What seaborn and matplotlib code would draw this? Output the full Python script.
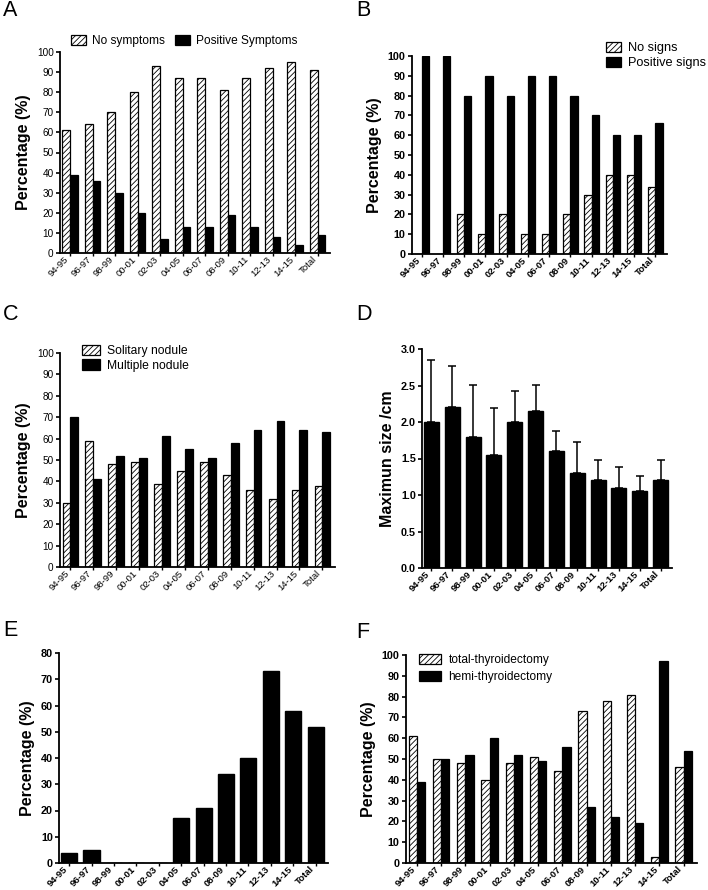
import numpy as np
import pandas as pd
import seaborn as sns
import matplotlib.pyplot as plt
from matplotlib.transforms import ScaledTranslation

periods = ['94-95', '96-97', '98-99', '00-01', '02-03', '04-05', '06-07',
           '08-09', '10-11', '12-13', '14-15', 'Total']

# A
no_symptoms = [61, 64, 70, 80, 93, 87, 87, 81, 87, 92, 95, 91]
pos_symptoms = [39, 36, 30, 20, 7, 13, 13, 19, 13, 8, 4, 9]
# B
no_signs = [0, 0, 20, 10, 20, 10, 10, 20, 30, 40, 40, 34]
pos_signs = [100, 100, 80, 90, 80, 90, 90, 80, 70, 60, 60, 66]
# C
solitary = [30, 59, 48, 49, 39, 45, 49, 43, 36, 32, 36, 38]
multiple = [70, 41, 52, 51, 61, 55, 51, 58, 64, 68, 64, 63]
# D
max_size = [2.0, 2.2, 1.8, 1.55, 2.0, 2.15, 1.6, 1.3, 1.2, 1.1, 1.05, 1.2]
max_size_sd = [0.85, 0.57, 0.71, 0.64, 0.43, 0.36, 0.28, 0.43, 0.28, 0.28, 0.21, 0.28]
# E
pct_e = [4, 5, 0, 0, 0, 17, 21, 34, 40, 73, 58, 52]
# F
total_thy = [61, 50, 48, 40, 48, 51, 44, 73, 78, 81, 3, 46]
hemi_thy = [39, 50, 52, 60, 52, 49, 56, 27, 22, 19, 97, 54]

sns.set_style('ticks', {'axes.edgecolor': 'black', 'text.color': 'black',
                        'axes.labelcolor': 'black', 'xtick.color': 'black',
                        'ytick.color': 'black'})
plt.rcParams['font.family'] = ['Liberation Sans', 'DejaVu Sans']
plt.rcParams['hatch.linewidth'] = 0.6

W, H = 708, 890
fig = plt.figure(figsize=(W / 100, H / 100), dpi=100)


def px_axes(left, top, right, bottom):
    return fig.add_axes([left / W, 1 - bottom / H, (right - left) / W, (bottom - top) / H])


def style_axis(ax, ymax, ystep, bold_ticks, ylabel):
    sns.despine(ax=ax)
    for s in ['left', 'bottom']:
        ax.spines[s].set_linewidth(1.3)
    ax.set_ylim(0, ymax)
    ax.set_yticks(np.arange(0, ymax + ystep / 2, ystep))
    ax.set_xlim(-0.45, 11.55)
    ax.set_xlabel('')
    ax.set_ylabel(ylabel, fontsize=11.5, fontweight='bold', labelpad=4)
    ax.tick_params(axis='y', width=1.2, length=3, pad=1.5,
                   labelsize=7.8 if bold_ticks else 7.2)
    ax.tick_params(axis='x', width=1.0, length=2.5, pad=1, labelsize=6.8)
    ax.set_xticks(range(len(periods)))
    ax.set_xticklabels(periods, rotation=45, ha='right', va='center',
                       rotation_mode='anchor')
    shift = ScaledTranslation(-2 / 72, 0, fig.dpi_scale_trans)
    for t in ax.get_xticklabels():
        t.set_transform(t.get_transform() + shift)
        if bold_ticks:
            t.set_fontweight('bold')
    if bold_ticks:
        for t in ax.get_yticklabels():
            t.set_fontweight('bold')


def paired(ax, a, b, la, lb):
    df = pd.DataFrame({'period': periods * 2, 'value': a + b,
                       'group': [la] * len(a) + [lb] * len(b)})
    sns.barplot(data=df, x='period', y='value', hue='group', order=periods,
                hue_order=[la, lb], palette=['white', 'black'], width=0.68,
                edgecolor='black', linewidth=0.9, errorbar=None, ax=ax)
    for bar in ax.containers[0]:
        bar.set_hatch('//////')
    handles = [ax.containers[0][0], ax.containers[1][0]]
    ax.get_legend().remove()
    return handles


def panel_label(x, y, s):
    fig.text(x / W, 1 - y / H, s, fontsize=15.5, ha='left', va='center')


# A
axA = px_axes(60, 52, 330, 253)
h = paired(axA, no_symptoms, pos_symptoms, 'No symptoms', 'Positive Symptoms')
style_axis(axA, 100, 10, False, 'Percentage (%)')
axA.legend(h, ['No symptoms', 'Positive Symptoms'], ncol=2, frameon=False,
           loc='center', bbox_to_anchor=(184 / W, 1 - 41 / H), bbox_transform=fig.transFigure,
           fontsize=8.6, handlelength=1.3, handleheight=0.9, columnspacing=0.8, handletextpad=0.5)
panel_label(3, 11, 'A')

# B
axB = px_axes(412, 56, 667, 254)
h = paired(axB, no_signs, pos_signs, 'No signs', 'Positive signs')
style_axis(axB, 100, 10, True, 'Percentage (%)')
axB.legend(h, ['No signs', 'Positive signs'], frameon=False,
           loc='upper left', bbox_to_anchor=(594 / W, 1 - 30 / H), bbox_transform=fig.transFigure,
           fontsize=9.2, handlelength=1.2, handleheight=0.9, labelspacing=0.2, handletextpad=0.6)
panel_label(356, 11, 'B')

# C
axC = px_axes(60, 353, 335, 567)
h = paired(axC, solitary, multiple, 'Solitary nodule', 'Multiple nodule')
style_axis(axC, 100, 10, False, 'Percentage (%)')
axC.legend(h, ['Solitary nodule', 'Multiple nodule'], frameon=False,
           loc='upper left', bbox_to_anchor=(71 / W, 1 - 334 / H), bbox_transform=fig.transFigure,
           fontsize=8.7, handlelength=1.5, handleheight=0.9, labelspacing=0.2, handletextpad=0.6)
panel_label(3, 315, 'C')

# D
axD = px_axes(422, 349, 672, 568)
sns.barplot(x=periods, y=max_size, order=periods, color='black', width=0.72,
            edgecolor='black', errorbar=None, ax=axD)
axD.errorbar(range(len(periods)), max_size, yerr=[np.zeros(len(max_size)), max_size_sd],
             fmt='none', ecolor='black', elinewidth=1.1, capsize=3, capthick=1.1)
style_axis(axD, 3.0, 0.5, True, 'Maximun size /cm')
axD.set_yticklabels([f'{v:.1f}' for v in np.arange(0, 3.01, 0.5)], fontweight='bold')
panel_label(356, 315, 'D')

# E
axE = px_axes(59, 653, 328, 863)
sns.barplot(x=periods, y=pct_e, order=periods, color='black', width=0.72,
            edgecolor='black', errorbar=None, ax=axE)
style_axis(axE, 80, 10, True, 'Percentage (%)')
panel_label(3, 630, 'E')

# F
axF = px_axes(406, 655, 697, 863)
h = paired(axF, total_thy, hemi_thy, 'total-thyroidectomy', 'hemi-thyroidectomy')
style_axis(axF, 100, 10, True, 'Percentage (%)')
axF.legend(h, ['total-thyroidectomy', 'hemi-thyroidectomy'], frameon=False,
           loc='upper left', bbox_to_anchor=(408 / W, 1 - 643 / H), bbox_transform=fig.transFigure,
           fontsize=8.6, handlelength=1.9, handleheight=0.9, labelspacing=0.45, handletextpad=0.6)
panel_label(356, 632, 'F')

fig.savefig('out.png', dpi=100)
